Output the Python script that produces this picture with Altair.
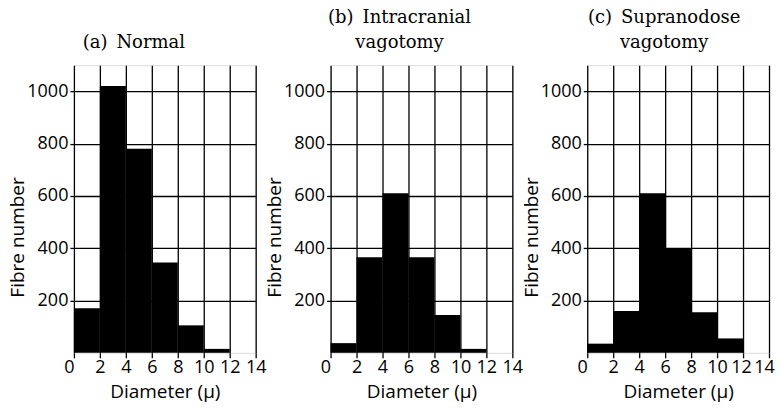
import altair as alt
import pandas as pd

# Bin edges (diameter, microns)
bin_start = [0, 2, 4, 6, 8, 10, 12]
bin_end = [2, 4, 6, 8, 10, 12, 14]

# Fibre numbers per bin
normal = [170, 1020, 780, 345, 105, 15, 0]
intracranial = [37, 365, 610, 365, 145, 15, 0]
supranodose = [35, 160, 610, 400, 155, 55, 0]

titles = [
    ["(a)\u2002Normal"],
    ["(b)\u2002Intracranial", "vagotomy"],
    ["(c)\u2002Supranodose", "vagotomy"],
]
title_dx = [-31, -22, -14]

x_ticks = [0, 2, 4, 6, 8, 10, 12, 14]
y_ticks = [200, 400, 600, 800, 1000]

SANS = "Open Sans"
SERIF = "DejaVu Serif"


def panel(values, title, dx, last=False):
    df = pd.DataFrame({"start": bin_start, "end": bin_end, "count": values})
    align = {"condition": {"test": "datum.value == 0", "value": "right"}, "value": "center"}
    if last:
        offset = {"condition": [{"test": "datum.value == 14", "value": -5},
                                {"test": "datum.value == 12", "value": -2}],
                  "value": 0}
    else:
        offset = 0
    return (
        alt.Chart(df)
        .mark_rect(color="black")
        .encode(
            x=alt.X(
                "start:Q",
                scale=alt.Scale(domain=[0, 14], nice=False, zero=False),
                axis=alt.Axis(
                    values=x_ticks,
                    format="d",
                    title="Diameter (μ)",
                    grid=True,
                    gridColor="black",
                    gridWidth=1.3,
                    gridOpacity=1,
                    domain=False,
                    tickColor="black",
                    tickSize=5,
                    tickWidth=1.3,
                    labelFont=SANS,
                    labelFontSize=18,
                    labelColor="black",
                    labelPadding=1,
                    labelAlign=align,
                    labelOffset=offset,
                    labelFlush=False,
                    labelOverlap=False,
                    titleFont=SANS,
                    titleFontSize=19,
                    titleFontWeight="normal",
                    titleColor="black",
                    titlePadding=6,
                ),
            ),
            x2="end:Q",
            y=alt.Y(
                "count:Q",
                scale=alt.Scale(domain=[0, 1100], nice=False),
                axis=alt.Axis(
                    values=y_ticks,
                    format="d",
                    title="Fibre number",
                    grid=True,
                    gridColor="black",
                    gridWidth=1.3,
                    gridOpacity=1,
                    domain=False,
                    tickColor="black",
                    tickSize=4,
                    tickWidth=1.3,
                    labelFont=SANS,
                    labelFontSize=18,
                    labelColor="black",
                    labelPadding=2,
                    titleFont=SANS,
                    titleFontSize=19,
                    titleFontWeight="normal",
                    titleColor="black",
                    titleX=-50,
                    titleBaseline="alphabetic",
                    titleY=172,
                ),
            ),
            y2=alt.datum(0),
        )
        .properties(
            width=182,
            height=288,
            title=alt.TitleParams(
                text=title,
                font=SERIF,
                fontSize=18,
                fontWeight="normal",
                color="black",
                anchor="middle",
                dx=dx,
                offset=13,
                lineHeight=25,
            ),
        )
    )


charts = [
    panel(normal, titles[0], title_dx[0]),
    panel(intracranial, titles[1], title_dx[1]),
    panel(supranodose, titles[2], title_dx[2], last=True),
]

chart = (
    alt.hconcat(*charts, spacing=75, bounds="flush")
    .properties(padding={"left": 0, "top": 0, "right": 0, "bottom": 0})
    .configure_view(stroke="black", strokeWidth=1.5)
    .configure(background="white")
)

chart.save("out.html", embed_options={"renderer": "svg", "actions": False})
